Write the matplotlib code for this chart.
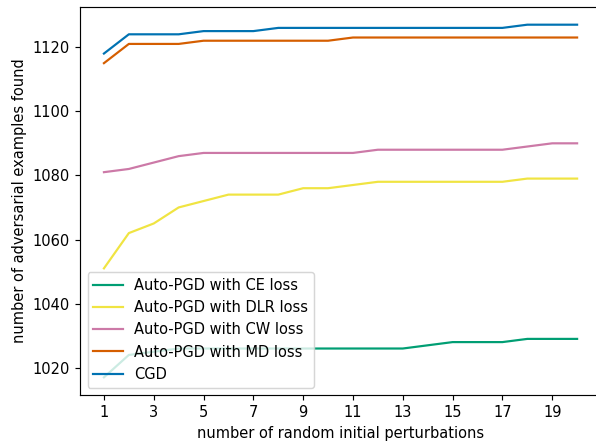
import matplotlib
matplotlib.use('Agg')
import matplotlib.pyplot as plt

# data
restarts = list(range(1, 21))
ce_loss = [1017, 1024, 1025, 1026, 1026, 1026, 1026, 1026, 1026, 1026,
           1026, 1026, 1026, 1027, 1028, 1028, 1028, 1029, 1029, 1029]
dlr_loss = [1051, 1062, 1065, 1070, 1072, 1074, 1074, 1074, 1076, 1076,
            1077, 1078, 1078, 1078, 1078, 1078, 1078, 1079, 1079, 1079]
cw_loss = [1081, 1082, 1084, 1086, 1087, 1087, 1087, 1087, 1087, 1087,
           1087, 1088, 1088, 1088, 1088, 1088, 1088, 1089, 1090, 1090]
md_loss = [1115, 1121, 1121, 1121, 1122, 1122, 1122, 1122, 1122, 1122,
           1123, 1123, 1123, 1123, 1123, 1123, 1123, 1123, 1123, 1123]
cgd = [1118, 1124, 1124, 1124, 1125, 1125, 1125, 1126, 1126, 1126,
       1126, 1126, 1126, 1126, 1126, 1126, 1126, 1127, 1127, 1127]

# original was rendered slightly larger than 100 dpi
fig, ax = plt.subplots(figsize=(596 / 105, 441 / 105), dpi=105)
ax.plot(restarts, ce_loss, color='#009E73', label='Auto-PGD with CE loss')
ax.plot(restarts, dlr_loss, color='#F0E442', label='Auto-PGD with DLR loss')
ax.plot(restarts, cw_loss, color='#CC79A7', label='Auto-PGD with CW loss')
ax.plot(restarts, md_loss, color='#D55E00', label='Auto-PGD with MD loss')
ax.plot(restarts, cgd, color='#0072B2', label='CGD')

ax.set_xticks(range(1, 21, 2))
ax.set_xlabel('number of random initial perturbations')
ax.set_ylabel('number of adversarial examples found')
ax.legend(loc='lower left')

# right spine falls just outside the image in the reference
plt.subplots_adjust(left=0.1347, right=1.008, top=0.984, bottom=0.1043)
plt.savefig('out.png')
